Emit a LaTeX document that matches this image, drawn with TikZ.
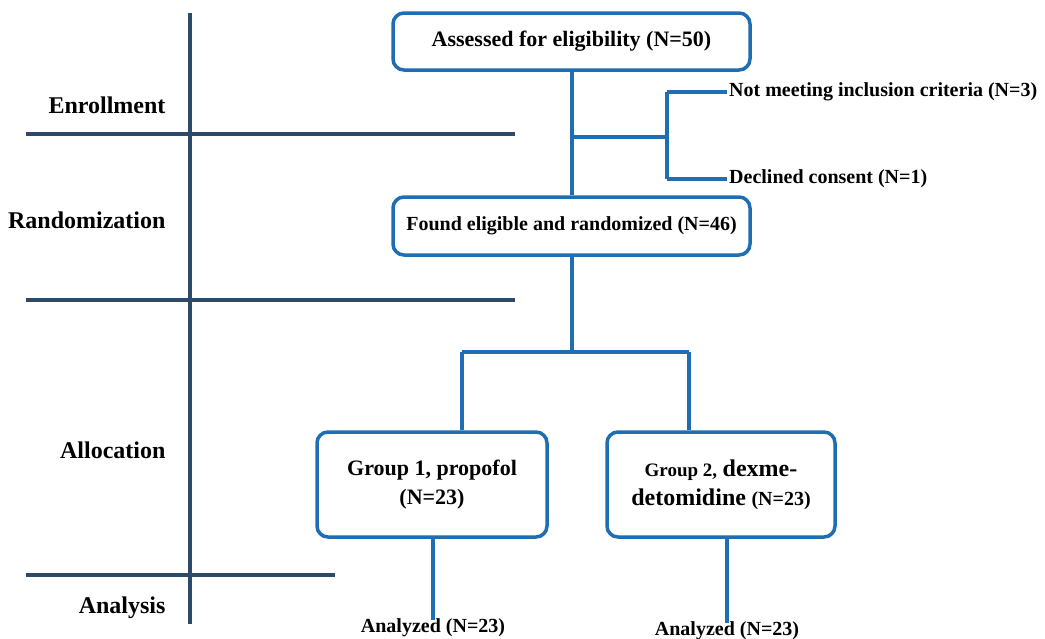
\documentclass[tikz,border=0pt]{standalone}
\usepackage{fontspec}
\setmainfont{Liberation Serif}
\definecolor{flowblue}{HTML}{1F6DB3}
\definecolor{axisdark}{HTML}{2E4A6B}
\begin{document}
\begin{tikzpicture}[x=1pt,y=-1pt,
  box/.style={draw=flowblue,line width=3.5pt,rounded corners=11pt,fill=white,align=center,inner sep=2pt,font=\bfseries\fontsize{22}{29}\selectfont},
  flow/.style={draw=flowblue,line width=3.5pt},
  axis/.style={draw=axisdark,line width=3.5pt},
  phase/.style={anchor=east,font=\bfseries\fontsize{24}{28}\selectfont},
  note/.style={anchor=west,inner sep=2pt,font=\bfseries\fontsize{20}{24}\selectfont},
  res/.style={inner sep=1pt,font=\bfseries\fontsize{20}{24}\selectfont}]
\useasboundingbox (0,0) rectangle (1045,638);
% phase axis
\coordinate (vtop) at (190,13);
\coordinate (vbot) at (190,624);
\draw[axis] (vtop) -- (vbot);
\coordinate (h1a) at (26,134); \coordinate (h1b) at (515,134);
\coordinate (h2a) at (26,300); \coordinate (h2b) at (515,300);
\coordinate (h3a) at (26,575); \coordinate (h3b) at (335,575);
\draw[axis] (h1a) -- (h1b);
\draw[axis] (h2a) -- (h2b);
\draw[axis] (h3a) -- (h3b);
\node[phase] (enr) at (169,105) {Enrollment};
\node[phase] (ran) at (169,220) {Randomization};
\node[phase] (all) at (169,450) {Allocation};
\node[phase] (ana) at (169,608) {Analysis};
% boxes
\node[box,minimum width=357pt,minimum height=57pt] (assess) at (571.5,41.5) {Assessed for eligibility (N=50)};
\node[box,minimum width=357pt,minimum height=58pt,font=\bfseries\fontsize{20}{24}\selectfont] (found) at (571.5,226) {Found eligible and randomized (N=46)};
\node[box,minimum width=230pt,minimum height=105pt] (g1) at (432,484.5) {Group 1, propofol\\(N=23)};
\node[box,minimum width=228pt,minimum height=105pt] (g2) at (721,484.5) {{\fontsize{19}{29}\selectfont Group 2,} {\fontsize{24}{29}\selectfont dexme-}\\{\fontsize{24}{29}\selectfont detomidine} {\fontsize{20}{29}\selectfont (N=23)}};
% exclusions
\node[note] (notmeet) at (727,92) {Not meeting inclusion criteria (N=3)};
\node[note] (declined) at (727,179) {Declined consent (N=1)};
\coordinate (brmain) at (572,137);
\coordinate (brjoin) at (667,137);
\coordinate (brtop) at (667,92);
\coordinate (brbot) at (667,179);
\draw[flow] (assess.south -| brmain) -- (found.north -| brmain);
\draw[flow] (brmain) -- (brjoin);
\draw[flow] (brtop) -- (brbot);
\draw[flow] (brtop) -- (notmeet.west);
\draw[flow] (brbot) -- (declined.west);
% allocation split
\coordinate (split) at (572,352);
\coordinate (splitL) at (462,352);
\coordinate (splitR) at (689,352);
\draw[flow] (found.south -| split) -- (split);
\draw[flow] (splitL) -- (splitR);
\draw[flow] (splitL) -- (splitL |- g1.north);
\draw[flow] (splitR) -- (splitR |- g2.north);
% analysis
\node[res,anchor=north] (an1) at (433,617) {Analyzed (N=23)};
\node[res,anchor=north] (an2) at (727,620) {Analyzed (N=23)};
\draw[flow] (g1.south -| an1) -- ([yshift=-3pt]an1.north);
\draw[flow] (g2.south -| an2) -- ([yshift=-3pt]an2.north);
\end{tikzpicture}
\end{document}
